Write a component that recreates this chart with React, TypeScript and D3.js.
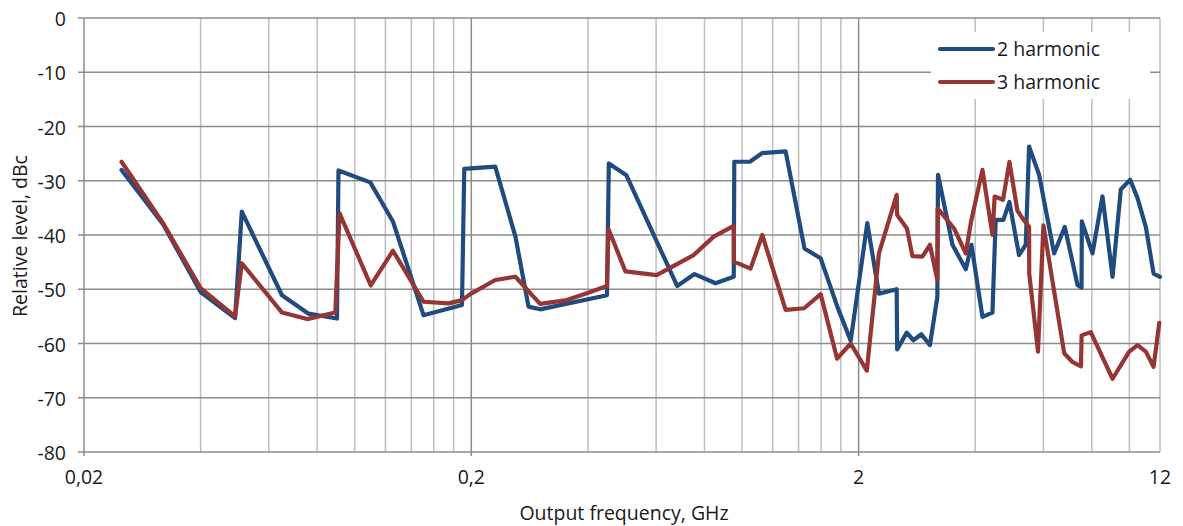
import React from "react";
import * as d3 from "d3";

const yTicks = [0, -10, -20, -30, -40, -50, -60, -70, -80];
const xTickValues = [0.02, 0.2, 2, 12];
const xTickLabels = ["0,02", "0,2", "2", "12"];
const minorX = [0.04, 0.06, 0.08, 0.1, 0.12, 0.14, 0.16, 0.18, 0.4, 0.6, 0.8, 1, 1.2, 1.4, 1.6, 1.8, 4, 6, 8, 10, 12];
const majorX = [0.2, 2];

const seriesNames = ["2 harmonic", "3 harmonic"];

const h2Freq = [0.025, 0.032, 0.04, 0.0491, 0.0511, 0.0649, 0.076, 0.09, 0.0908, 0.1097, 0.1255, 0.1506, 0.1892, 0.1918, 0.2306, 0.26, 0.281, 0.301, 0.448, 0.453, 0.503, 0.68, 0.754, 0.854, 0.952, 0.955, 1.048, 1.128, 1.296, 1.45, 1.596, 1.762, 1.908, 2.106, 2.257, 2.508, 2.515, 2.662, 2.77, 2.904, 3.056, 3.194, 3.206, 3.494, 3.782, 3.912, 4.176, 4.432, 4.518, 4.73, 4.902, 5.19, 5.402, 5.51, 5.848, 6.394, 6.814, 7.348, 7.526, 7.54, 8.032, 8.526, 9.05, 9.506, 10.05, 10.5, 11.03, 11.55, 12.0];
const h2Level = [-28.0, -38.0, -50.5, -55.3, -35.7, -51.1, -54.5, -55.4, -28.1, -30.3, -37.5, -54.8, -52.9, -27.8, -27.4, -40.3, -53.2, -53.7, -51.1, -26.8, -29.0, -49.4, -47.2, -48.9, -47.7, -26.5, -26.5, -24.9, -24.6, -42.5, -44.3, -53.2, -59.5, -37.8, -50.8, -50.0, -61.1, -58.0, -59.4, -58.3, -60.3, -51.4, -28.9, -41.8, -46.3, -41.8, -55.1, -54.3, -37.2, -37.2, -33.9, -43.7, -41.8, -23.7, -28.9, -43.4, -38.5, -49.2, -49.7, -37.5, -43.4, -32.9, -47.7, -31.6, -29.8, -33.2, -38.5, -47.1, -47.7];

const h3Freq = [0.025, 0.032, 0.04, 0.0491, 0.0511, 0.0649, 0.0754, 0.0891, 0.0914, 0.11, 0.1255, 0.1506, 0.1747, 0.1892, 0.1988, 0.2306, 0.26, 0.301, 0.353, 0.406, 0.448, 0.452, 0.5, 0.602, 0.75, 0.845, 0.952, 0.953, 1.052, 1.128, 1.296, 1.447, 1.596, 1.76, 1.908, 2.1, 2.257, 2.508, 2.515, 2.666, 2.753, 2.922, 3.056, 3.194, 3.2, 3.528, 3.782, 3.896, 4.176, 4.432, 4.49, 4.72, 4.902, 5.14, 5.296, 5.51, 5.515, 5.81, 6.0, 6.79, 7.13, 7.5, 7.53, 7.95, 9.05, 9.99, 10.5, 11.03, 11.55, 11.95];
const h3Level = [-26.5, -37.8, -49.8, -55.0, -45.2, -54.3, -55.5, -54.3, -36.0, -49.3, -42.9, -52.3, -52.6, -52.0, -50.9, -48.3, -47.7, -52.7, -52.0, -50.5, -49.4, -38.9, -46.7, -47.4, -43.7, -40.3, -38.3, -44.9, -46.2, -40.0, -53.8, -53.5, -50.9, -62.8, -60.0, -65.0, -43.4, -32.6, -36.3, -38.8, -43.9, -44.0, -41.8, -48.3, -35.1, -38.8, -43.4, -37.8, -28.0, -40.0, -32.9, -33.5, -26.5, -35.5, -36.9, -38.5, -47.1, -61.5, -38.2, -61.8, -63.4, -64.2, -58.5, -57.9, -66.5, -61.5, -60.3, -61.5, -64.3, -56.2];

const colors = ["#1f4b7f", "#963634"];

const W = 1183;
const H = 526;
const left = 84;
const right = 1160;
const top = 18;
const bottom = 452;
const font = "'Open Sans', sans-serif";
const fs = 19.5;

export default function App() {
  const x = d3.scaleLog().domain([0.02, 12]).range([left, right]);
  const y = d3.scaleLinear().domain([-80, 0]).range([bottom, top]);
  const line = d3
    .line<[number, number]>()
    .x((d) => x(d[0]))
    .y((d) => y(d[1]));
  const s2: [number, number][] = h2Freq.map((f, i) => [f, h2Level[i]]);
  const s3: [number, number][] = h3Freq.map((f, i) => [f, h3Level[i]]);
  const series = [s2, s3];

  return (
    <svg width={W} height={H} style={{ position: "absolute", left: 0, top: 0 }}>
      <rect x={0} y={0} width={W} height={H} fill="#ffffff" />
      {minorX.map((v) => (
        <line key={"mx" + v} x1={x(v)} x2={x(v)} y1={top} y2={bottom} stroke="#bfbfbf" strokeWidth={1.5} />
      ))}
      {majorX.map((v) => (
        <line key={"Mx" + v} x1={x(v)} x2={x(v)} y1={top} y2={bottom} stroke="#8c8c8c" strokeWidth={1.5} />
      ))}
      {yTicks.map((v) => (
        <line key={"gy" + v} x1={left - 6} x2={right} y1={y(v)} y2={y(v)} stroke="#8c8c8c" strokeWidth={1.5} />
      ))}
      <line x1={left} x2={left} y1={top} y2={bottom + 4} stroke="#8c8c8c" strokeWidth={1.5} />
      {majorX.map((v) => (
        <line key={"tk" + v} x1={x(v)} x2={x(v)} y1={bottom} y2={bottom + 4} stroke="#8c8c8c" strokeWidth={1.5} />
      ))}
      {yTicks.map((v) => (
        <text key={"ty" + v} x={66} y={y(v) + 8} textAnchor="end" fontFamily={font} fontSize={fs} fill="#1a1a1a">
          {v}
        </text>
      ))}
      {xTickValues.map((v, i) => (
        <text key={"tx" + v} x={x(v)} y={484} textAnchor="middle" fontFamily={font} fontSize={fs} fill="#1a1a1a">
          {xTickLabels[i]}
        </text>
      ))}
      <text x={624} y={520} textAnchor="middle" fontFamily={font} fontSize={fs} fill="#1a1a1a">
        Output frequency, GHz
      </text>
      <text
        transform={`translate(27, ${(top + bottom) / 2 + 1}) rotate(-90)`}
        textAnchor="middle"
        fontFamily={font}
        fontSize={fs}
        fill="#1a1a1a"
      >
        Relative level, dBc
      </text>
      {series.map((s, i) => (
        <path
          key={"s" + i}
          d={line(s) || ""}
          fill="none"
          stroke={colors[i]}
          strokeWidth={4.2}
          strokeLinejoin="round"
          strokeLinecap="round"
        />
      ))}
      <rect x={931} y={32} width={219} height={67} fill="#ffffff" />
      {seriesNames.map((n, i) => (
        <g key={"lg" + i}>
          <line x1={940} x2={993} y1={49 + i * 33} y2={49 + i * 33} stroke={colors[i]} strokeWidth={4.2} strokeLinecap="round" />
          <text x={997} y={56 + i * 33} fontFamily={font} fontSize={fs} fill="#1a1a1a">
            {n}
          </text>
        </g>
      ))}
    </svg>
  );
}
